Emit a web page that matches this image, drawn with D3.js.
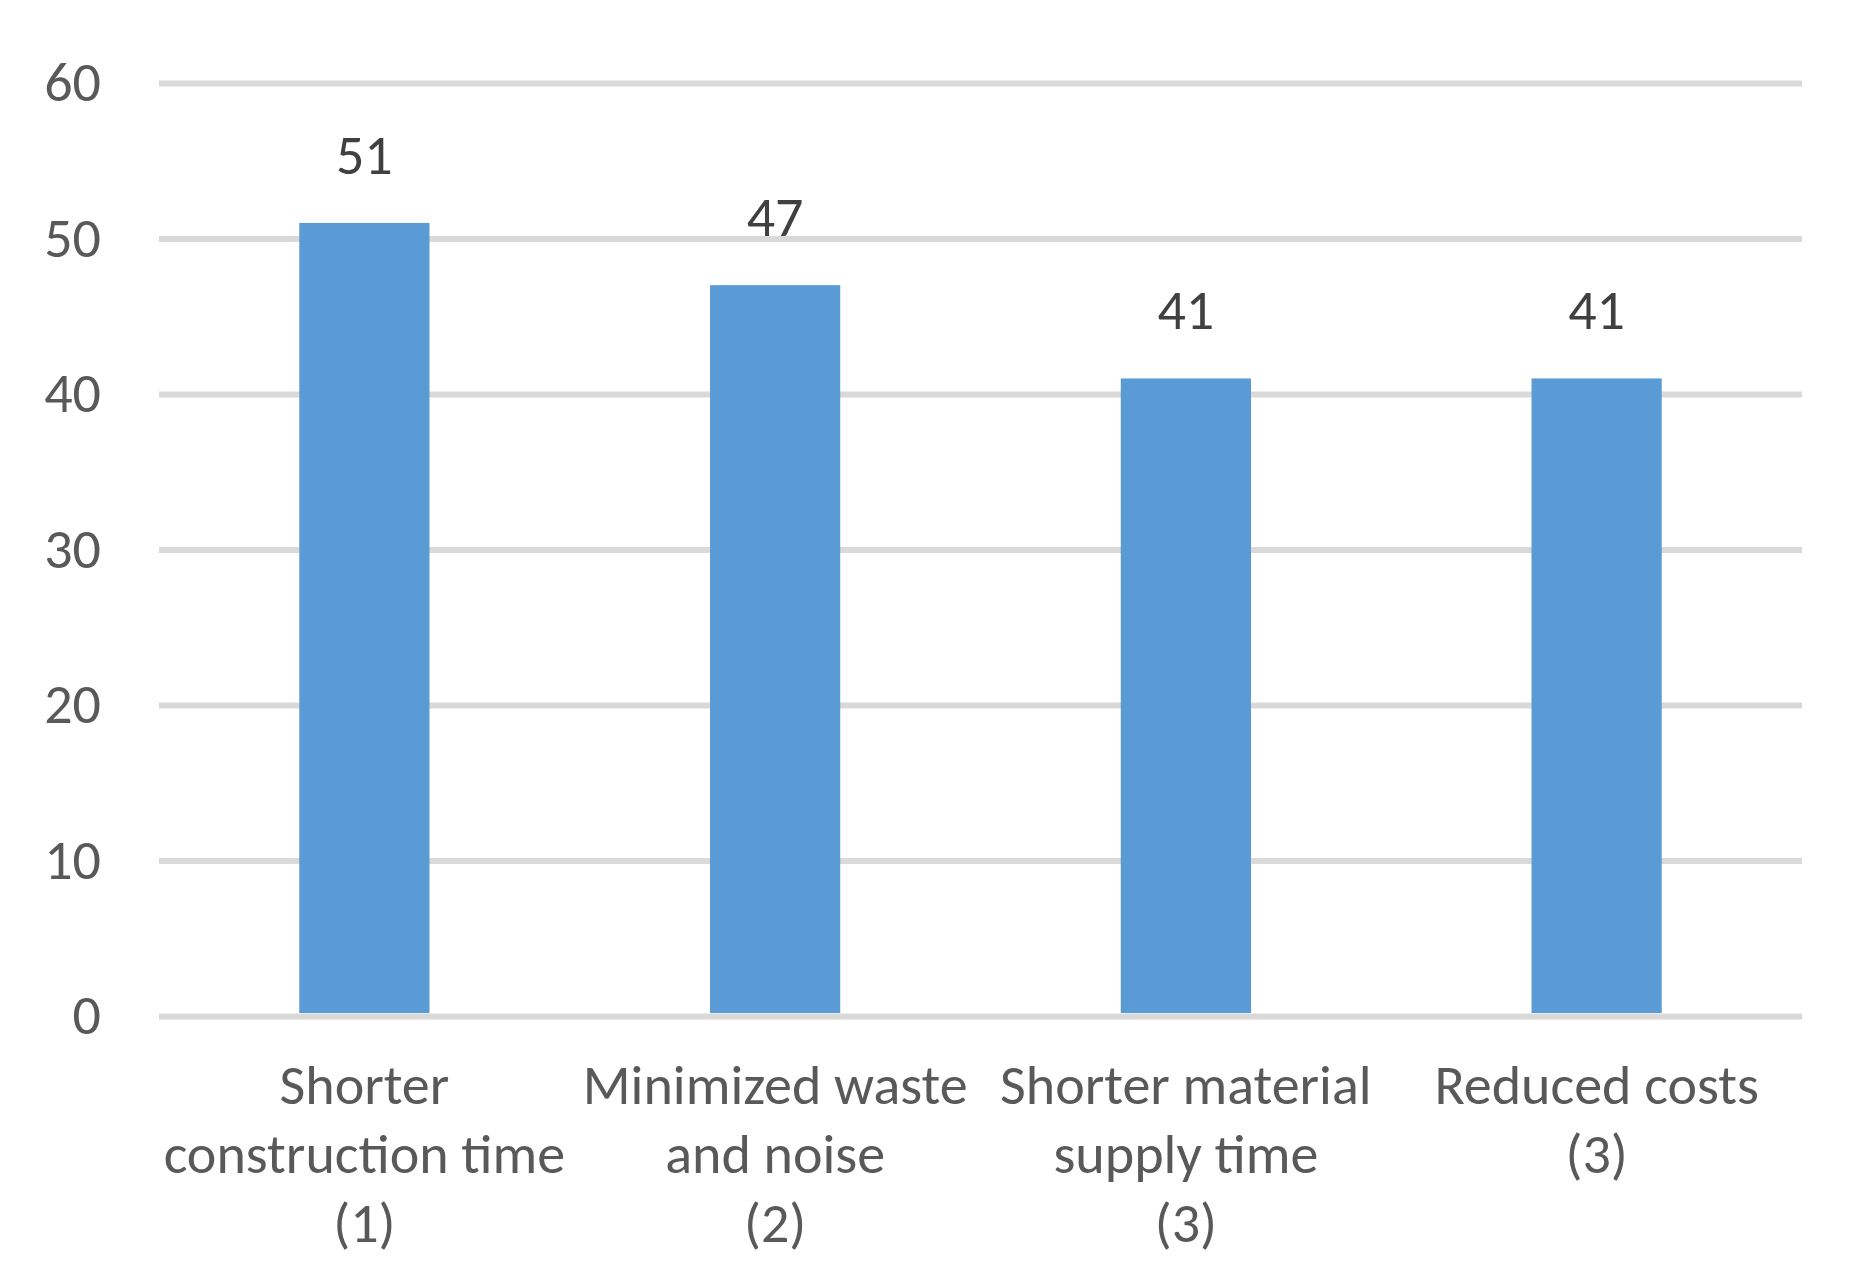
<!DOCTYPE html>
<html>
<head>
<meta charset="utf-8">
<script src="https://cdn.jsdelivr.net/npm/d3@7"></script>
<style>
    body { margin: 0; background: white; }
    text { font-family: Carlito, Lato, "Open Sans", sans-serif; }
</style>
</head>
<body>
<svg></svg>
<script>
"use strict";

// categories, split into lines the way they wrap under the axis
var categories = [
    ['Shorter', 'construction time', '(1)'],
    ['Minimized waste', 'and noise', '(2)'],
    ['Shorter material', 'supply time', '(3)'],
    ['Reduced costs', '(3)']
];
var values = [51, 47, 41, 41];
var yTicks = [0, 10, 20, 30, 40, 50, 60];

var settings = {
    svg: { width: 1852, height: 1288 },
    plot: { left: 159, right: 1802, top: 83, bottom: 1016 },
    bar: { color: '#5b9bd5', padding: 0.683 },
    grid: { color: '#d9d9d9', width: 6 },
    font: { size: 56, tick: '#595959', label: '#404040' }
};

var svg = d3.select('svg')
    .attr('width', settings.svg.width)
    .attr('height', settings.svg.height);

var x = d3.scaleBand()
    .domain(d3.range(values.length))
    .range([settings.plot.left, settings.plot.right])
    .paddingInner(settings.bar.padding)
    .paddingOuter(settings.bar.padding / 2);

var y = d3.scaleLinear()
    .domain([0, 60])
    .range([settings.plot.bottom, settings.plot.top]);

// gridlines + y tick labels
var yAxis = svg.append('g')
    .attr('transform', `translate(${settings.plot.left},0)`)
    .call(d3.axisLeft(y)
        .tickValues(yTicks)
        .tickSize(-(settings.plot.right - settings.plot.left))
        .tickPadding(58));

yAxis.select('.domain').remove();
yAxis.selectAll('line')
    .attr('stroke', settings.grid.color)
    .attr('stroke-width', settings.grid.width);
yAxis.selectAll('text')
    .attr('fill', settings.font.tick)
    .style('font-size', settings.font.size + 'px')
    .style('font-family', 'Carlito, Lato, "Open Sans", sans-serif');

// bars
svg.append('g')
    .selectAll('rect')
    .data(values)
    .enter()
    .append('rect')
    .attr('x', (d, i) => x(i))
    .attr('y', d => y(d))
    .attr('width', x.bandwidth())
    .attr('height', d => y(0) - y(d) - settings.grid.width / 2)
    .attr('fill', settings.bar.color);

// value labels
svg.append('g')
    .selectAll('text')
    .data(values)
    .enter()
    .append('text')
    .attr('x', (d, i) => x(i) + x.bandwidth() / 2)
    .attr('y', d => y(d) - 49)
    .attr('text-anchor', 'middle')
    .attr('fill', settings.font.label)
    .style('font-size', settings.font.size + 'px')
    .text(d => d);

// category labels
var lineHeight = 69;
svg.append('g')
    .selectAll('text')
    .data(categories)
    .enter()
    .append('text')
    .attr('x', (d, i) => x(i) + x.bandwidth() / 2)
    .attr('y', 1104)
    .attr('text-anchor', 'middle')
    .attr('fill', settings.font.tick)
    .style('font-size', settings.font.size + 'px')
    .selectAll('tspan')
    .data(d => d)
    .enter()
    .append('tspan')
    .attr('x', function () { return this.parentNode.getAttribute('x'); })
    .attr('dy', (d, i) => i === 0 ? 0 : lineHeight)
    .text(d => d);
</script>
</body>
</html>
